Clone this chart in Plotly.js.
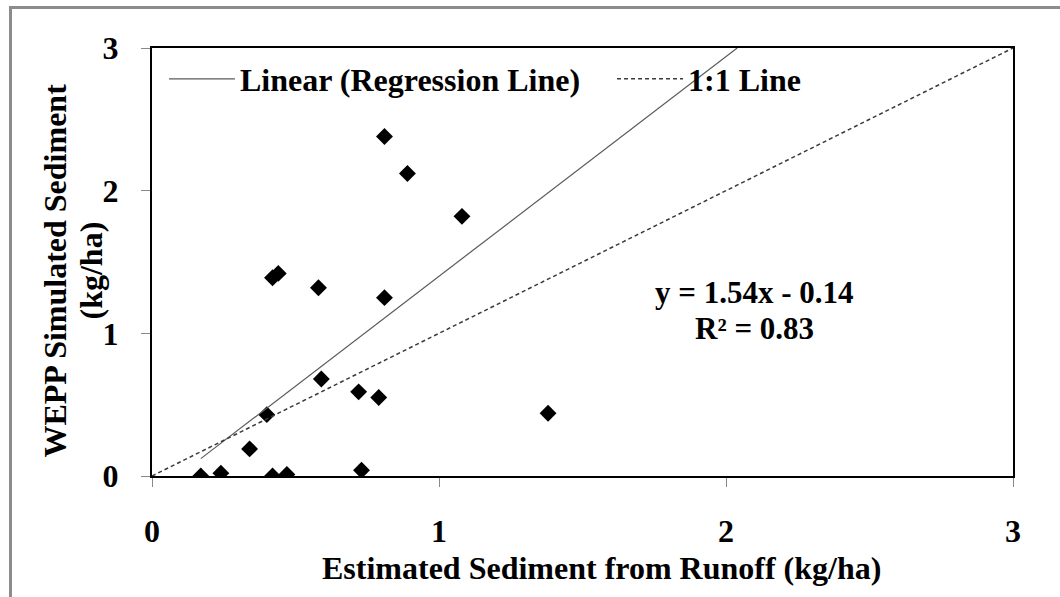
<!DOCTYPE html>
<html>
<head>
<meta charset="utf-8">
<script src="https://cdn.plot.ly/plotly-3.0.1.min.js"></script>
<style>
  html, body { margin: 0; padding: 0; background: #ffffff; overflow: hidden; }
  #frame { position: absolute; left: 9px; top: 6px; width: 1100px; height: 650px; border: 3px solid #8c8c8c; box-sizing: border-box; }
  #chart { position: absolute; left: 0; top: 0; width: 1060px; height: 597px; }
</style>
</head>
<body>
<div id="frame"></div>
<div id="chart"></div>
<script>
const estimatedSediment = [0.17, 0.24, 0.34, 0.40, 0.42, 0.47, 0.42, 0.44, 0.58, 0.59, 0.72, 0.73, 0.79, 0.81, 0.81, 0.89, 1.08, 1.38];
const weppSediment      = [0.00, 0.02, 0.19, 0.43, 0.00, 0.01, 1.39, 1.42, 1.32, 0.68, 0.59, 0.04, 0.55, 1.25, 2.38, 2.12, 1.82, 0.44];

// Regression line parameters (from the chart's equation)
const slope = 1.54;
const intercept = -0.14;
const rSquared = 0.83;
const axisMax = 3;
const tickValues = [0, 1, 2, 3];
const tickLabels = ['0', '1', '2', '3'];

const regX0 = Math.min(...estimatedSediment);
const regX1 = (axisMax - intercept) / slope;
const regX = [regX0, regX1];
const regY = regX.map(v => slope * v + intercept);

const oneX = [0, axisMax];
const oneY = [0, axisMax];

const serif = 'Liberation Serif, Times New Roman, serif';
const f32 = { family: serif, size: 32, color: '#000000', weight: 'bold' };
const f31 = { family: serif, size: 31, color: '#000000', weight: 'bold' };

const traces = [
  {
    x: estimatedSediment, y: weppSediment, type: 'scatter', mode: 'markers',
    name: 'Observed', showlegend: false,
    marker: { symbol: 'diamond', size: 13, color: '#000000' }
  },
  {
    x: regX, y: regY, type: 'scatter', mode: 'lines',
    name: 'Linear (Regression Line)', legend: 'legend',
    line: { color: '#5a5a5a', width: 1.2 }
  },
  {
    x: oneX, y: oneY, type: 'scatter', mode: 'lines',
    name: '1:1 Line', legend: 'legend2',
    line: { color: '#3a3a3a', width: 1.5, dash: '4px,3px' }
  }
];

const layout = {
  width: 1060, height: 597,
  paper_bgcolor: 'rgba(0,0,0,0)', plot_bgcolor: '#ffffff',
  margin: { l: 152, r: 47, t: 48, b: 121 },
  font: f32,
  showlegend: true,
  legend: {
    orientation: 'h', x: 0.0139, y: 0.9276, xanchor: 'left', yanchor: 'middle',
    bgcolor: 'rgba(0,0,0,0)', borderwidth: 0, font: f32, itemwidth: 66
  },
  legend2: {
    orientation: 'h', x: 0.5343, y: 0.9276, xanchor: 'left', yanchor: 'middle',
    bgcolor: 'rgba(0,0,0,0)', borderwidth: 0, font: f32, itemwidth: 66
  },
  xaxis: {
    range: [0, axisMax], tickvals: tickValues, ticktext: tickLabels,
    showgrid: false, zeroline: false,
    showline: true, mirror: true, linecolor: '#000000', linewidth: 2,
    ticks: 'outside', ticklen: 9, tickcolor: '#888888', tickwidth: 1,
    ticklabelstandoff: 17,
    tickfont: f32
  },
  yaxis: {
    range: [0, axisMax], tickvals: tickValues, ticktext: tickLabels,
    showgrid: false, zeroline: false,
    showline: true, mirror: true, linecolor: '#000000', linewidth: 2,
    ticks: 'outside', ticklen: 9, tickcolor: '#888888', tickwidth: 1,
    ticklabelstandoff: 16,
    tickfont: f32
  },
  annotations: [
    { xref: 'paper', yref: 'paper', x: 0.5215, y: -0.2150, text: 'Estimated Sediment from Runoff (kg/ha)',
      showarrow: false, font: f32, xanchor: 'center', yanchor: 'middle' },
    { xref: 'paper', yref: 'paper', x: -0.1138, y: 0.4801, text: 'WEPP Simulated Sediment', textangle: -90,
      showarrow: false, font: f32, xanchor: 'center', yanchor: 'middle' },
    { xref: 'paper', yref: 'paper', x: -0.0709, y: 0.4801, text: '(kg/ha)', textangle: -90,
      showarrow: false, font: f32, xanchor: 'center', yanchor: 'middle' },
    { xref: 'paper', yref: 'paper', x: 0.7003, y: 0.4276,
      text: 'y = ' + slope.toFixed(2) + 'x - ' + Math.abs(intercept).toFixed(2), showarrow: false,
      font: f31, xanchor: 'center', yanchor: 'middle' },
    { xref: 'paper', yref: 'paper', x: 0.7003, y: 0.3435, text: 'R² = ' + rSquared.toFixed(2), showarrow: false,
      font: f31, xanchor: 'center', yanchor: 'middle' }
  ]
};

Plotly.newPlot('chart', traces, layout, { displayModeBar: false, staticPlot: true });
</script>
</body>
</html>
